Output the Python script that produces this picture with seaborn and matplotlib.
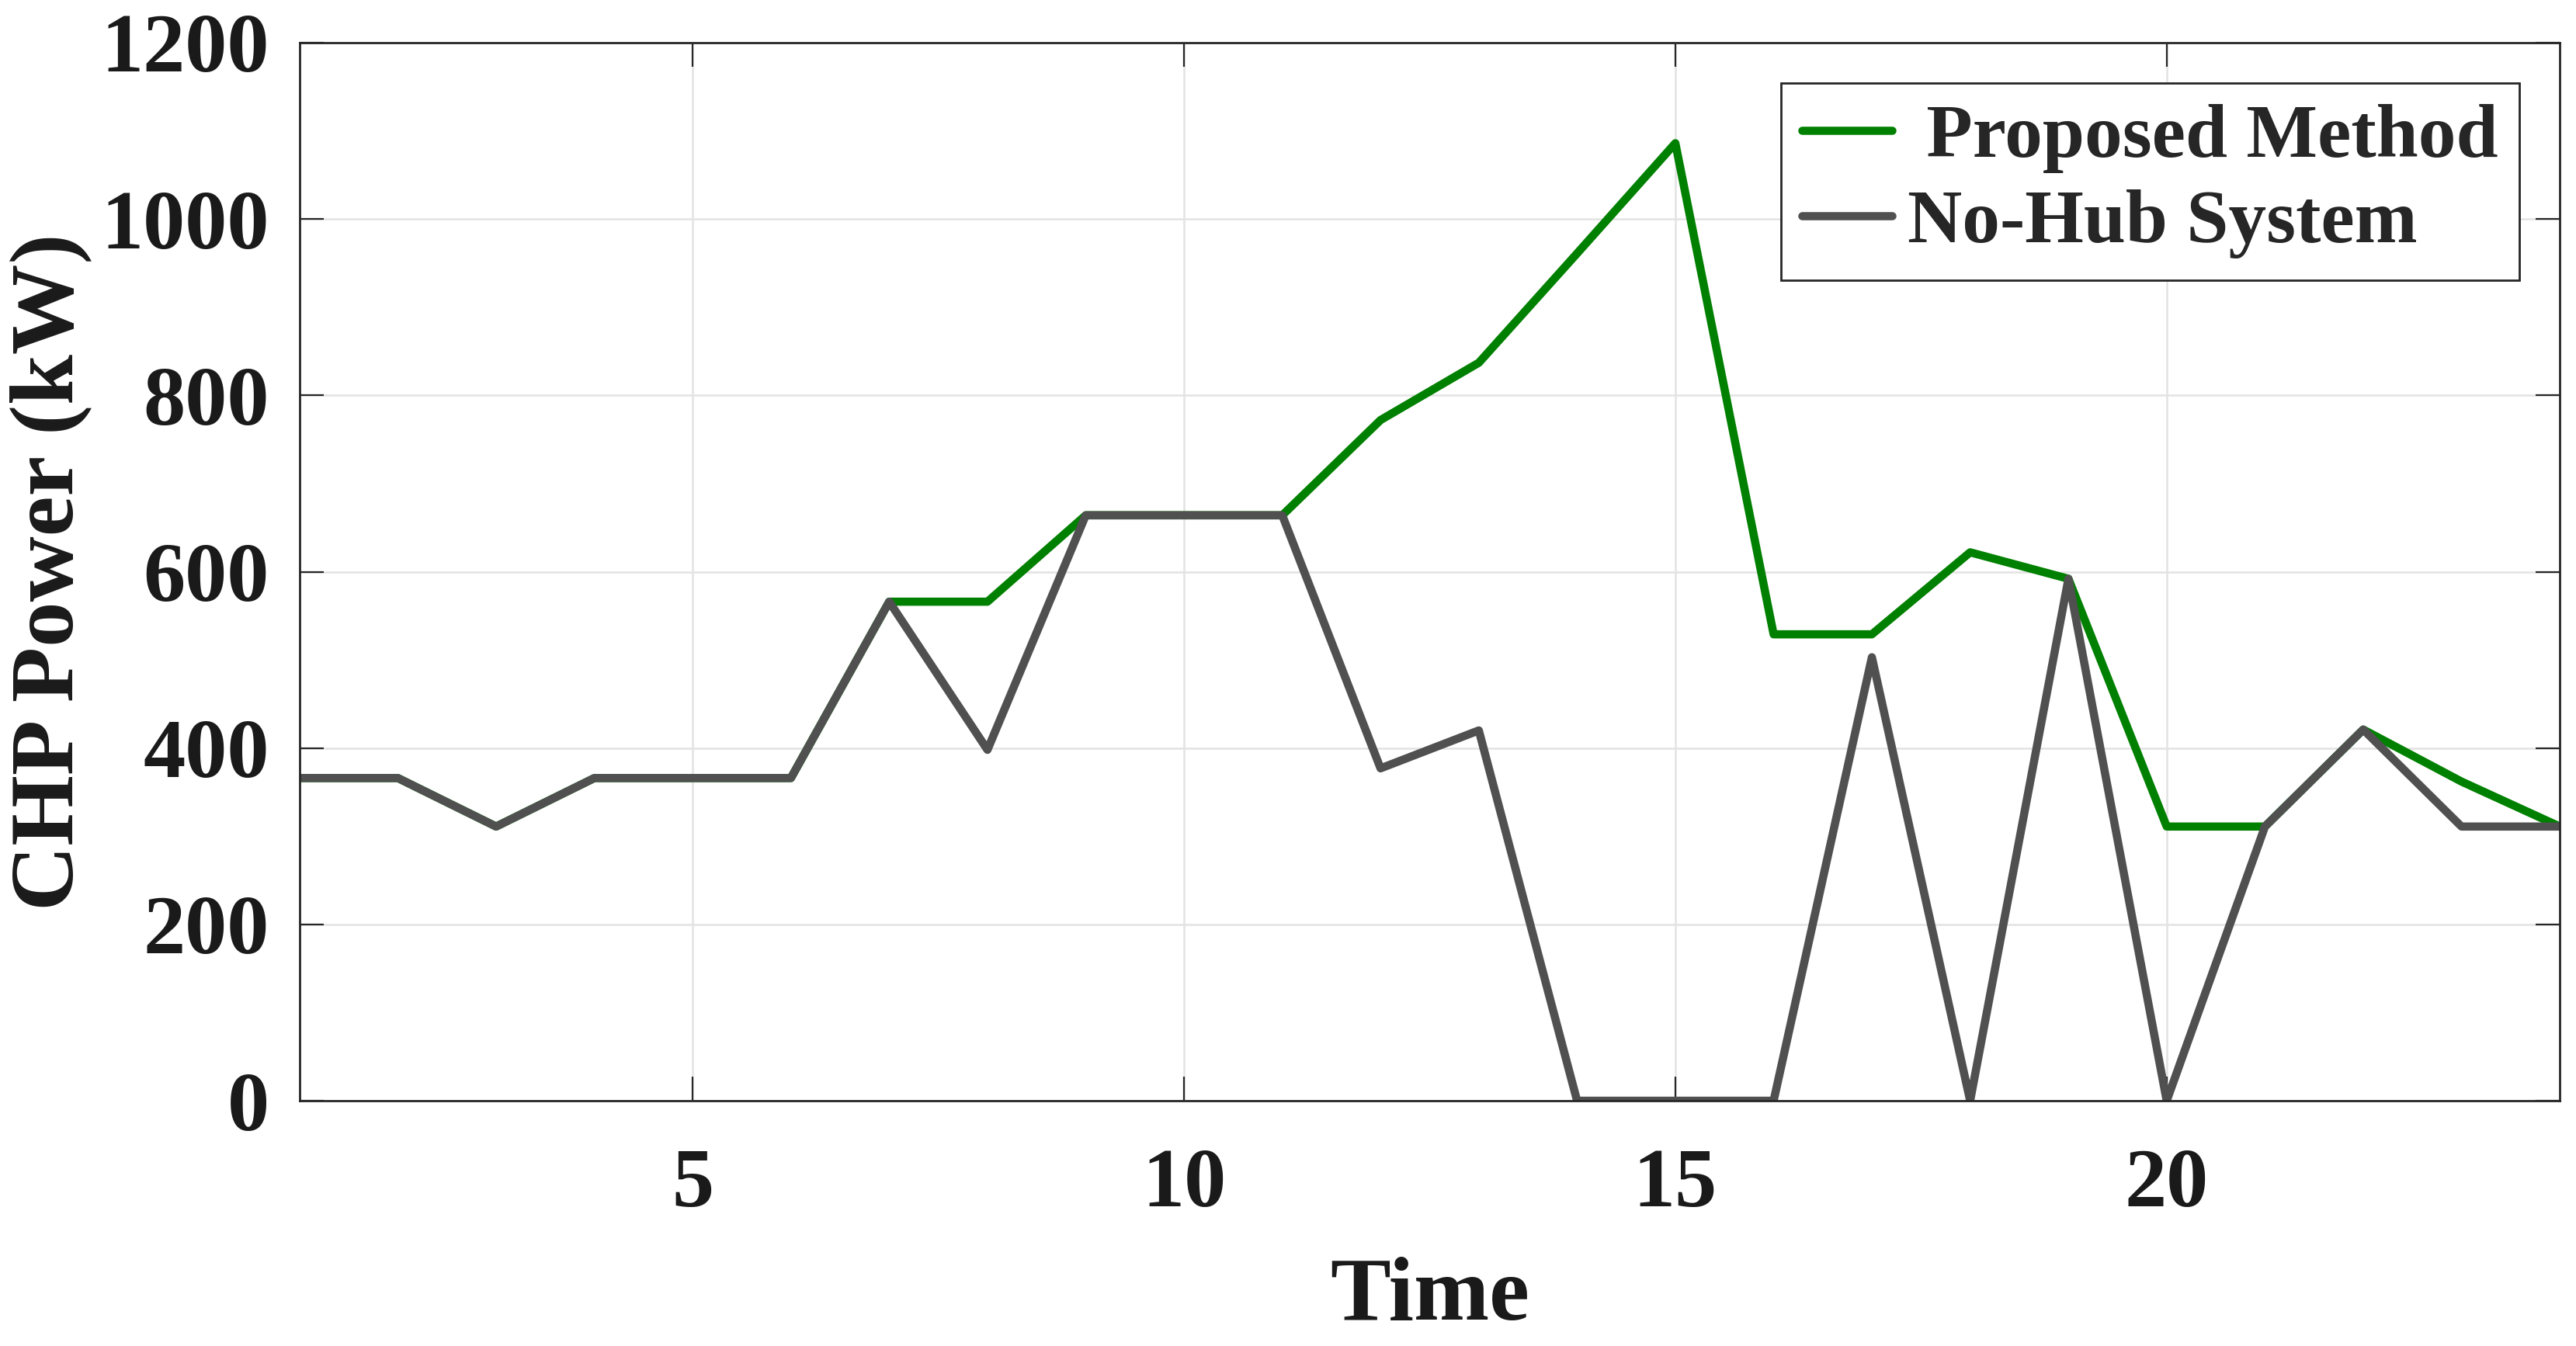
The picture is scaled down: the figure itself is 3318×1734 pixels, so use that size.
# CHP power per hour: proposed method vs. no-hub system

import numpy as np
import pandas as pd
import matplotlib
matplotlib.use('Agg')
import matplotlib.pyplot as plt
import seaborn as sns

# hourly data
hours = list(range(1, 25))
proposed_kw = [366, 366, 311, 366, 366, 366, 566, 566, 664, 664, 664, 772,
               837, 961, 1086, 529, 529, 622, 592, 311, 311, 421, 362, 311]
nohub_kw = [366, 366, 311, 366, 366, 366, 566, 398, 664, 664, 664, 377,
            420, 0, 0, 0, 503, 0, 592, 0, 311, 421, 311, 311]
series_names = [' Proposed Method', 'No-Hub System']
series_colors = ['#008000', '#505050']
x_ticks = [5, 10, 15, 20]
y_ticks = [0, 200, 400, 600, 800, 1000, 1200]

sns.set_theme(style='whitegrid')
plt.rcParams['font.family'] = ['Liberation Serif', 'DejaVu Serif']
plt.rcParams['font.weight'] = 'bold'

df = pd.DataFrame({
    'Time': hours * 2,
    'Power': proposed_kw + nohub_kw,
    'Series': [series_names[0]] * len(hours) + [series_names[1]] * len(hours),
})

fig = plt.figure(figsize=(16.59, 8.67), dpi=200)
ax = fig.add_axes([0.1163, 0.1822, 0.9937 - 0.1163, 0.9683 - 0.1822])

sns.lineplot(data=df, x='Time', y='Power', hue='Series', hue_order=series_names,
             palette=series_colors, linewidth=3.8, ax=ax, sort=False)

ax.set_xlim(1, 24)
ax.set_ylim(0, 1200)
ax.set_xticks(x_ticks)
ax.set_yticks(y_ticks)
ax.grid(True, color='#e3e3e3', linewidth=0.9)
for s in ax.spines.values():
    s.set_visible(True)
    s.set_color('#262626')
    s.set_linewidth(1.0)
ax.tick_params(axis='both', direction='in', length=11, width=0.8, color='#262626',
               labelsize=39, labelcolor='#1a1a1a', top=True, right=True,
               left=True, bottom=True)
ax.tick_params(axis='y', pad=14)
ax.tick_params(axis='x', pad=22)
for lab in ax.get_xticklabels() + ax.get_yticklabels():
    lab.set_fontweight('bold')

ax.set_xlabel('Time', fontsize=42, fontweight='bold', color='#1a1a1a', labelpad=15)
ax.set_ylabel('CHP Power (kW)', fontsize=42, fontweight='bold', color='#1a1a1a')
ax.yaxis.set_label_coords(-0.092, 0.5)

leg = ax.legend(loc='upper right', bbox_to_anchor=(0.982, 0.962), borderaxespad=0,
                frameon=True, fancybox=False, edgecolor='#262626', framealpha=1,
                prop={'size': 35, 'weight': 'bold'}, handlelength=1.2,
                handletextpad=0.2, borderpad=0.28, labelspacing=0.22)
leg.get_frame().set_linewidth(1.0)
for line in leg.get_lines():
    line.set_linewidth(3.8)

plt.savefig('out.png', dpi=200)
